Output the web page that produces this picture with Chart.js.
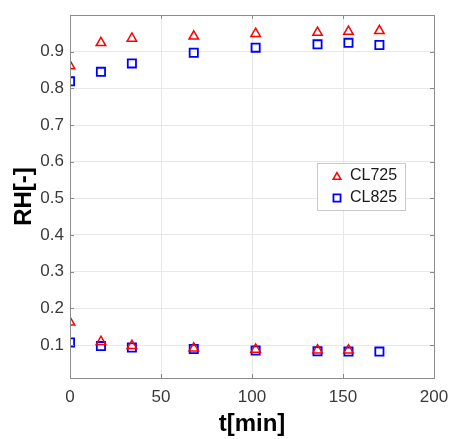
<!DOCTYPE html>
<html>
<head>
<meta charset="utf-8">
<script src="https://cdn.jsdelivr.net/npm/chart.js@4/dist/chart.umd.min.js"></script>
<style>
  html, body { margin: 0; padding: 0; background: #fff; }
  #wrap { position: relative; width: 450px; height: 439px; }
</style>
</head>
<body>
<div id="wrap"><canvas id="rh-chart"></canvas></div>
<script>
// time points [min]
const timeCL725 = [0, 17, 34, 68, 102, 136, 153, 170, 0, 17, 34, 68, 102, 136, 153];
const timeCL825 = [0, 17, 34, 68, 102, 136, 153, 170, 0, 17, 34, 68, 102, 136, 153, 170];

// RH values (upper branch then lower branch)
const rhCL725 = [0.861, 0.924, 0.936, 0.942, 0.949, 0.952, 0.955, 0.957,
                 0.162, 0.109, 0.098, 0.091, 0.088, 0.086, 0.086];
const rhCL825 = [0.819, 0.845, 0.868, 0.897, 0.911, 0.920, 0.924, 0.918,
                 0.107, 0.097, 0.093, 0.089, 0.085, 0.083, 0.082, 0.082];

const seriesNames = ['CL725', 'CL825'];
const xTicks = [0, 50, 100, 150, 200];
const yTicks = [0.1, 0.2, 0.3, 0.4, 0.5, 0.6, 0.7, 0.8, 0.9];

const toPoints = (xs, ys) => xs.map((x, i) => ({ x: x, y: ys[i] }));

// box, inner ticks and legend drawn like the original figure
const boxPlugin = {
  id: 'boxPlugin',
  afterDraw(chart) {
    const { ctx, chartArea: a, scales } = chart;
    ctx.save();
    ctx.strokeStyle = '#8c8c8c';
    ctx.lineWidth = 1;
    ctx.beginPath();
    xTicks.forEach(v => {
      const px = Math.round(scales.x.getPixelForValue(v)) + 0.5;
      ctx.moveTo(px, a.bottom); ctx.lineTo(px, a.bottom - 4);
      ctx.moveTo(px, a.top); ctx.lineTo(px, a.top + 4);
    });
    yTicks.forEach(v => {
      const py = Math.round(scales.y.getPixelForValue(v)) + 0.5;
      ctx.moveTo(a.left, py); ctx.lineTo(a.left + 4, py);
      ctx.moveTo(a.right, py); ctx.lineTo(a.right - 4, py);
    });
    ctx.stroke();
    ctx.strokeRect(Math.round(a.left) + 0.5, Math.round(a.top) + 0.5,
                   Math.round(a.right - a.left), Math.round(a.bottom - a.top));

    // legend
    const lx = 317, ly = 163, lw = 88, lh = 47;
    ctx.fillStyle = '#fff';
    ctx.fillRect(lx, ly, lw, lh);
    ctx.strokeStyle = '#c8c8c8';
    ctx.strokeRect(lx + 0.5, ly + 0.5, lw, lh);
    ctx.font = '16px "Liberation Sans", Arial, sans-serif';
    ctx.textBaseline = 'middle';
    chart.data.datasets.forEach((ds, i) => {
      const cy = ly + 13 + i * 22;
      ctx.strokeStyle = ds.borderColor;
      ctx.fillStyle = 'rgba(0,0,0,0)';
      ctx.lineWidth = ds.borderWidth;
      Chart.helpers.drawPoint(ctx, {
        pointStyle: ds.pointStyle,
        rotation: 0,
        radius: i === 0 ? 4.5 : 5,
        borderWidth: ds.borderWidth
      }, lx + 20, cy + (i === 0 ? 1 : 0));
      ctx.fillStyle = '#1a1a1a';
      ctx.fillText(ds.label, lx + 33, cy);
    });
    ctx.restore();
  }
};

new Chart(document.getElementById('rh-chart'), {
  type: 'scatter',
  data: {
    datasets: [
      {
        label: seriesNames[0],
        data: toPoints(timeCL725, rhCL725),
        pointStyle: 'triangle',
        pointRadius: 5.5,
        borderColor: '#ff0000',
        backgroundColor: 'rgba(0,0,0,0)',
        borderWidth: 1.5
      },
      {
        label: seriesNames[1],
        data: toPoints(timeCL825, rhCL825),
        pointStyle: 'rect',
        pointRadius: 5.8,
        borderColor: '#0000ff',
        backgroundColor: 'rgba(0,0,0,0)',
        borderWidth: 1.8
      }
    ]
  },
  options: {
    responsive: true,
    maintainAspectRatio: false,
    animation: false,
    layout: { padding: { left: 0, top: 15, right: 16, bottom: 0 } },
    scales: {
      x: {
        type: 'linear',
        min: 0,
        max: 200,
        afterBuildTicks: s => { s.ticks = xTicks.map(v => ({ value: v })); },
        afterFit: s => { s.height = 61; s.paddingLeft = 0; s.paddingRight = 0; },
        grid: { color: '#e8e8e8', drawTicks: false },
        border: { display: false },
        ticks: {
          padding: 9,
          color: '#3a3a3a',
          font: { family: '"Liberation Sans", Arial, sans-serif', size: 17 }
        },
        title: {
          display: true,
          text: 't[min]',
          color: '#000',
          padding: { top: 0, bottom: 0 },
          font: { family: '"Liberation Sans", Arial, sans-serif', size: 24, weight: 'bold' }
        }
      },
      y: {
        type: 'linear',
        min: 0.01,
        max: 1.0,
        afterBuildTicks: s => { s.ticks = yTicks.map(v => ({ value: v })); },
        afterFit: s => { s.width = 70; s.paddingTop = 0; s.paddingBottom = 0; },
        grid: { color: '#e8e8e8', drawTicks: false },
        border: { display: false },
        ticks: {
          padding: 6,
          color: '#3a3a3a',
          font: { family: '"Liberation Sans", Arial, sans-serif', size: 17 },
          callback: v => v.toFixed(1)
        },
        title: {
          display: true,
          text: 'RH[-]',
          color: '#000',
          padding: { top: 10, bottom: 0 },
          font: { family: '"Liberation Sans", Arial, sans-serif', size: 24, weight: 'bold' }
        }
      }
    },
    plugins: {
      legend: { display: false },
      tooltip: { enabled: false }
    }
  },
  plugins: [boxPlugin]
});
</script>
</body>
</html>
